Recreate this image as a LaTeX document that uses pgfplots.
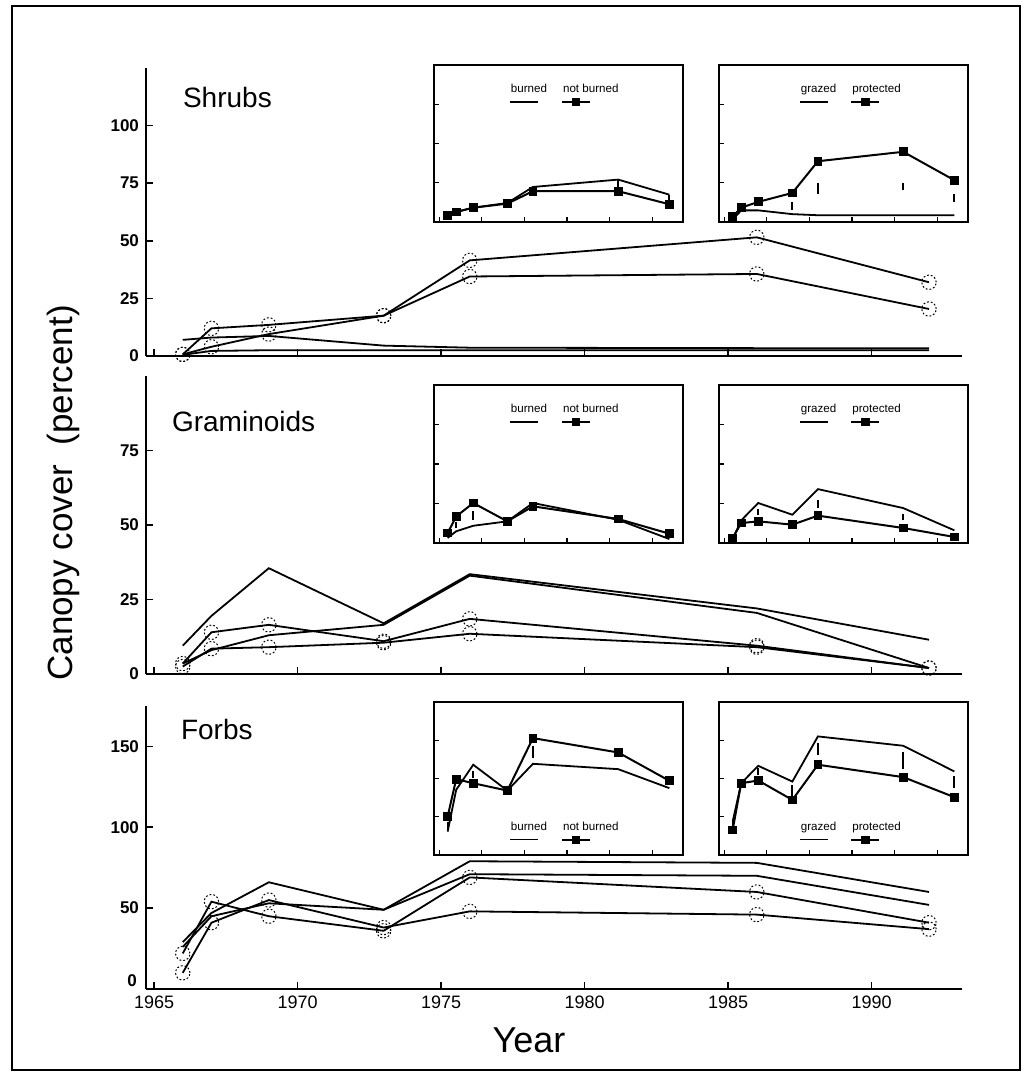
\documentclass[border=0pt]{standalone}
\usepackage{fontspec}
\setmainfont{Liberation Sans}
\usepackage{pgfplots}
\pgfplotsset{compat=1.18}

\pgfplotsset{
  mainax/.style={
    scale only axis, width=408pt,
    xmin=1964.72, xmax=1993.15, ymin=0,
    axis lines*=left,
    axis line style={line width=1pt},
    tick align=inside, major tick length=3.5pt,
    tick style={line width=0.8pt, black},
    xtick={1965,1970,...,1990},
    /pgf/number format/1000 sep={},
    /pgf/number format/assume math mode=true,
    xticklabel style={font=\fontsize{9}{9}\selectfont},
    yticklabel style={font=\bfseries\fontsize{8.5}{9}\selectfont},
    clip=false,
  },
  inset/.style={
    scale only axis, width=124.5pt,
    xmin=1964.4, xmax=1993.6, ymin=0, ymax=100,
    xtick={1965,1970,...,1990}, ytick={25,50,75},
    xticklabels={}, yticklabels={},
    xtick pos=left, ytick pos=left,
    tick align=inside, major tick length=2.5pt,
    tick style={line width=0.6pt, black},
    axis line style={line width=1.1pt},
    axis background/.style={fill=white},
    legend style={draw=none, fill=none, legend columns=2,
      font=\fontsize{5.8}{6}\selectfont,
      /tikz/every even column/.append style={column sep=3pt}},
  },
  ser/.style={black, line width=0.9pt, mark=none},
  circ/.style={black, line width=0.9pt, mark=o, mark size=3.6pt,
    mark options={densely dotted, line width=0.5pt}},
  sq/.style={black, line width=1pt, mark=square*, mark size=1.7pt,
    mark options={solid}},
  bar/.style={black, line width=0.9pt, forget plot, unbounded coords=jump},
  plainkey/.style={legend image code/.code={\path (0pt,0pt);
    \draw[overlay,black,line width=0.7pt] (2pt,-6pt) -- (16pt,-6pt);}},
  sqkey/.style={legend image code/.code={\path (0pt,0pt);
    \draw[overlay,black,line width=0.9pt,mark=square*,mark size=1.6pt,
      mark repeat=2,mark phase=2] plot coordinates {(2pt,-6pt) (9pt,-6pt) (16pt,-6pt)};}},
}

\begin{document}
\begin{tikzpicture}
\path (0pt,0pt) rectangle (513pt,537.5pt);
\draw[line width=1pt] (6pt,2.5pt) rectangle (510pt,534.5pt);

% ---------------- Shrubs ----------------
\begin{axis}[mainax, at={(73pt,359.5pt)}, anchor=south west, height=144pt,
  ymax=125, ytick={0,25,50,75,100}, xticklabels={}]
\addplot[circ] coordinates {(1966,0.7) (1967,12) (1969,13.5) (1973,17.5) (1976,41.5) (1986,51.5) (1992,32)};
\addplot[circ] coordinates {(1966,0.7) (1967,4) (1969,9.5) (1973,17.5) (1976,34.5) (1986,35.6) (1992,20.4)};
\addplot[ser] coordinates {(1966,7) (1967,8) (1969,8.7) (1973,4.5) (1976,3.6) (1986,3.4) (1992,3.4)};
\addplot[ser] coordinates {(1966,0.5) (1967,2.2) (1969,2.5) (1973,2.5) (1976,2.5) (1986,2.5) (1992,2.5)};
\end{axis}
\node[anchor=base west, font=\fontsize{14}{14}\selectfont] at (88pt,483.5pt) {Shrubs};

\begin{axis}[inset, at={(217pt,426.5pt)}, anchor=south west, height=78.5pt,
  legend style={at={(0.26,0.93)}, anchor=north west}]
\addplot[ser, plainkey] coordinates {(1966,4.3) (1967,6.4) (1969,9.1) (1973,12.1) (1976,22.3) (1986,27) (1992,17.4)};
\addlegendentry{burned}
\addplot[sq, sqkey] coordinates {(1966,4.3) (1967,6.4) (1969,9.1) (1973,11.7) (1976,19.6) (1986,19.6) (1992,11.3)};
\addlegendentry{not burned}
\addplot[bar] coordinates {(1986,20) (1986,26.5) (1989,nan) (1992,11.7) (1992,17)};
\end{axis}

\begin{axis}[inset, at={(359.5pt,426.5pt)}, anchor=south west, height=78.5pt,
  legend style={at={(0.28,0.93)}, anchor=north west}]
\addplot[ser, plainkey] coordinates {(1966,1.5) (1967,7.4) (1969,7.4) (1973,5) (1976,4.3) (1986,4.3) (1992,4.3)};
\addlegendentry{grazed}
\addplot[sq, sqkey] coordinates {(1966,3.6) (1967,9.1) (1969,12.8) (1973,18.5) (1976,38.7) (1986,44.7) (1992,26.6)};
\addlegendentry{protected}
\addplot[bar] coordinates {(1973,7.9) (1973,12.8) (1974,nan) (1976,18) (1976,24.9) (1980,nan) (1986,20.2) (1986,24.9) (1989,nan) (1992,12.8) (1992,18.1)};
\end{axis}

% ---------------- Graminoids ----------------
\begin{axis}[mainax, at={(73pt,200.5pt)}, anchor=south west, height=149pt,
  ymax=100, ytick={0,25,50,75}, xticklabels={}]
\addplot[ser] coordinates {(1966,9.5) (1967,19.5) (1969,35.5) (1973,17) (1976,33.5) (1986,22) (1992,11.5)};
\addplot[circ] coordinates {(1966,3.5) (1967,14) (1969,16.5) (1973,11) (1976,18.5) (1986,9.5) (1992,2)};
\addplot[ser] coordinates {(1966,3.5) (1967,8) (1969,13) (1973,16.5) (1976,33) (1986,20.5) (1992,2)};
\addplot[circ] coordinates {(1966,2.5) (1967,8.5) (1969,9) (1973,10.5) (1976,13.5) (1986,9) (1992,2)};
\end{axis}
\node[anchor=base west, font=\fontsize{14}{14}\selectfont] at (82.5pt,321.5pt) {Graminoids};

\begin{axis}[inset, at={(217pt,266pt)}, anchor=south west, height=79pt,
  legend style={at={(0.26,0.93)}, anchor=north west}]
\addplot[ser, plainkey] coordinates {(1966,3.2) (1967,7.4) (1969,10.9) (1973,13.7) (1976,25.3) (1986,14.7) (1992,2.5)};
\addlegendentry{burned}
\addplot[sq, sqkey] coordinates {(1966,6.3) (1967,16.8) (1969,25.3) (1973,13.7) (1976,23.2) (1986,15.2) (1992,5.9)};
\addlegendentry{not burned}
\addplot[bar] coordinates {(1967,9.5) (1967,13) (1968,nan) (1969,14.7) (1969,20)};
\end{axis}

\begin{axis}[inset, at={(359.5pt,266pt)}, anchor=south west, height=79pt,
  legend style={at={(0.28,0.93)}, anchor=north west}]
\addplot[ser, plainkey] coordinates {(1966,2.5) (1967,14.3) (1969,25.3) (1973,17.9) (1976,34.1) (1986,22.1) (1992,8)};
\addlegendentry{grazed}
\addplot[sq, sqkey] coordinates {(1966,3.2) (1967,12.6) (1969,13.7) (1973,11.6) (1976,17.3) (1986,9.5) (1992,3.8)};
\addlegendentry{protected}
\addplot[bar] coordinates {(1969,17.9) (1969,21.5) (1972,nan) (1976,22) (1976,27) (1980,nan) (1986,14.3) (1986,18.5)};
\end{axis}

% ---------------- Forbs ----------------
\begin{axis}[mainax, at={(73pt,43pt)}, anchor=south west, height=141.5pt,
  ymax=175, ytick={50,100,150},
  extra y ticks={0},
  extra y tick style={yticklabel style={yshift=4pt, xshift=-1pt}}]
\addplot[ser] coordinates {(1966,29) (1967,47) (1969,66) (1973,49) (1976,79) (1986,78) (1992,60)};
\addplot[ser] coordinates {(1966,26) (1967,45) (1969,53) (1973,49) (1976,71) (1986,70) (1992,52)};
\addplot[circ] coordinates {(1966,22) (1967,54) (1969,45) (1973,36) (1976,69) (1986,60) (1992,41)};
\addplot[circ] coordinates {(1966,10) (1967,41) (1969,55) (1973,38) (1976,48) (1986,46) (1992,37)};
\end{axis}
\node[anchor=base west, font=\fontsize{14}{14}\selectfont] at (87pt,167.5pt) {Forbs};

\begin{axis}[inset, at={(217pt,110pt)}, anchor=south west, height=76.5pt,
  legend style={at={(0.26,0.27)}, anchor=north west}]
\addplot[ser, plainkey] coordinates {(1966,15.3) (1967,42.6) (1969,59) (1973,42.1) (1976,59.6) (1986,56.1) (1992,43.7)};
\addlegendentry{burned}
\addplot[sq, sqkey] coordinates {(1966,25.1) (1967,49.6) (1969,46.9) (1973,42.1) (1976,76.4) (1986,67) (1992,48.5)};
\addlegendentry{not burned}
\addplot[bar] coordinates {(1966,16.4) (1966,21.8) (1967,nan) (1969,50.2) (1969,54.6) (1972,nan) (1976,63.3) (1976,71)};
\end{axis}

\begin{axis}[inset, at={(359.5pt,110pt)}, anchor=south west, height=76.5pt,
  legend style={at={(0.28,0.27)}, anchor=north west}]
\addplot[ser, plainkey] coordinates {(1966,21.8) (1967,46.9) (1969,58.3) (1973,48) (1976,77.5) (1986,71.4) (1992,54.6)};
\addlegendentry{grazed}
\addplot[sq, sqkey] coordinates {(1966,16.4) (1967,46.9) (1969,48.7) (1973,36) (1976,59) (1986,50.9) (1992,37.8)};
\addlegendentry{protected}
\addplot[bar] coordinates {(1966,18.6) (1966,22.9) (1967,nan) (1969,52.4) (1969,56.8) (1971,nan) (1973,38.6) (1973,45.9) (1974,nan) (1976,65.5) (1976,73.1) (1980,nan) (1986,56.1) (1986,67) (1989,nan) (1992,43.7) (1992,51.7)};
\end{axis}

\node[rotate=90, font=\fontsize{17.5}{18}\selectfont] at (31.75pt,291pt) {Canopy cover\ \ (percent)};
\node[anchor=base, font=\fontsize{18}{18}\selectfont] at (264.5pt,11pt) {Year};
\end{tikzpicture}
\end{document}
